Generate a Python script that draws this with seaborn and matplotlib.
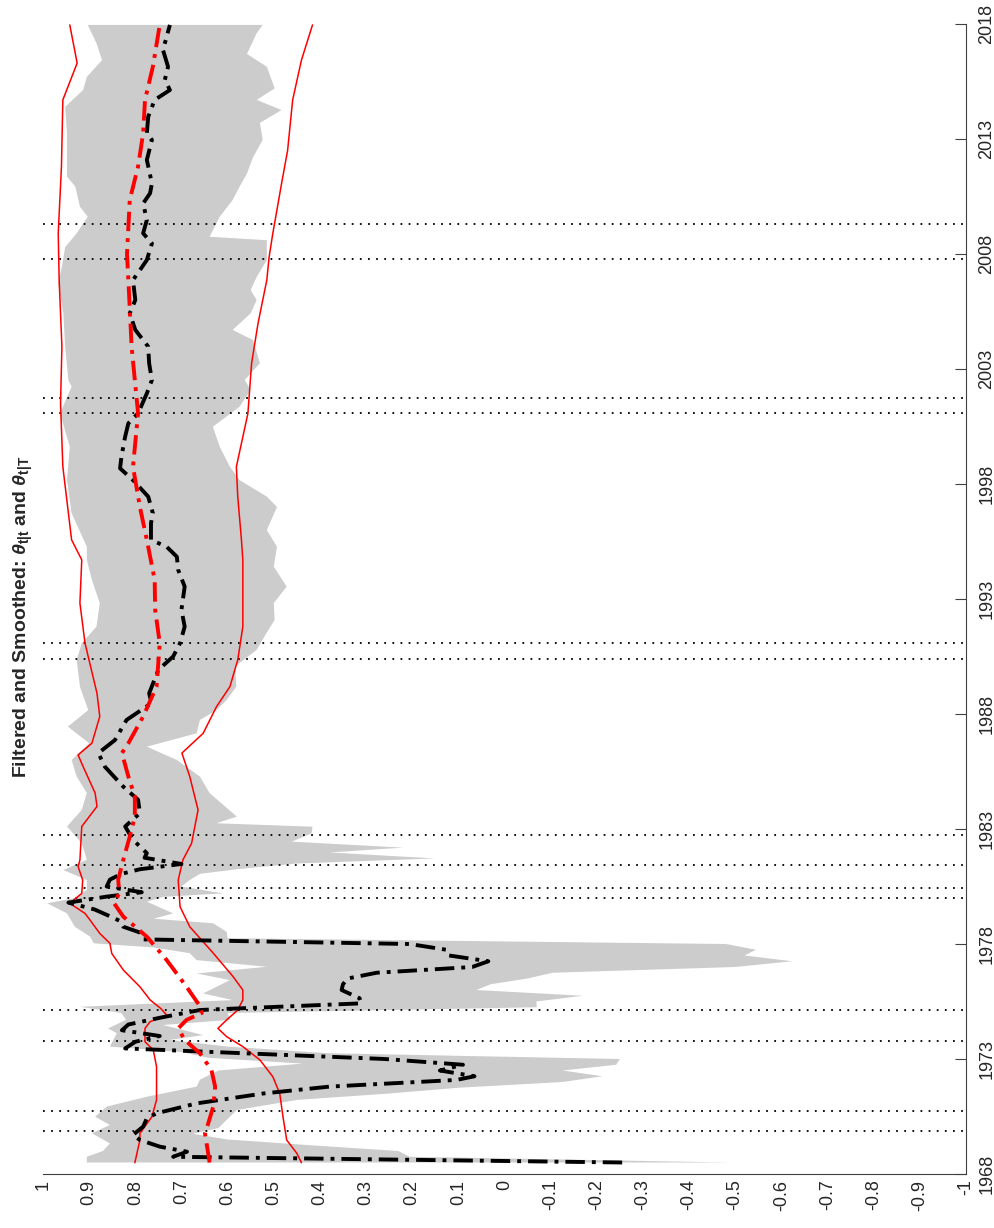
import numpy as np
import pandas as pd
import seaborn as sns
import matplotlib
matplotlib.use("Agg")
import matplotlib.pyplot as plt

# filtered estimate theta_{t|t}
filt_years = [1968.50, 1968.75, 1968.97, 1969.19, 1969.48, 1969.70, 1970.06, 1970.42, 1970.64, 1971.07,
              1971.50, 1971.80, 1972.09, 1972.25, 1972.50, 1972.75, 1973.00, 1973.46, 1973.75, 1974.00,
              1974.25, 1974.50, 1974.80, 1975.13, 1975.42, 1975.64, 1976.00, 1976.25, 1976.50, 1976.75,
              1977.00, 1977.25, 1977.50, 1977.75, 1978.00, 1978.20, 1978.50, 1978.75, 1979.00, 1979.25,
              1979.50, 1979.80, 1980.06, 1980.25, 1980.50, 1980.80, 1981.05, 1981.25, 1981.48, 1981.75,
              1981.95, 1982.53, 1983.11, 1983.69, 1984.27, 1984.84, 1985.71, 1986.30, 1986.87, 1987.74,
              1988.47, 1988.90, 1989.92, 1990.50, 1991.08, 1991.80, 1992.53, 1993.54, 1994.26, 1994.84,
              1995.27, 1995.57, 1996.29, 1996.73, 1997.45, 1998.17, 1998.68, 1999.19, 2000.06, 2000.64,
              2001.07, 2001.94, 2002.52, 2003.25, 2003.97, 2004.70, 2005.42, 2006.00, 2006.87, 2007.30,
              2007.74, 2008.46, 2008.90, 2009.48, 2010.20, 2010.64, 2011.07, 2012.09, 2012.96, 2013.25,
              2013.97, 2014.70, 2015.13, 2015.57, 2016.14, 2016.87, 2017.96]
filt_values = [-0.255, 0.718, 0.688, 0.747, 0.790, 0.805, 0.783, 0.775, 0.754, 0.667,
               0.523, 0.379, 0.104, 0.065, 0.140, 0.090, 0.260, 0.822, 0.800, 0.747,
               0.829, 0.815, 0.745, 0.660, 0.310, 0.314, 0.353, 0.350, 0.340, 0.277,
               0.070, 0.035, 0.120, 0.126, 0.206, 0.783, 0.790, 0.826, 0.833, 0.860,
               0.888, 0.945, 0.862, 0.786, 0.862, 0.855, 0.830, 0.790, 0.700, 0.780,
               0.775, 0.805, 0.822, 0.790, 0.794, 0.826, 0.866, 0.880, 0.844, 0.819,
               0.765, 0.770, 0.750, 0.718, 0.703, 0.693, 0.700, 0.693, 0.707, 0.710,
               0.732, 0.766, 0.766, 0.762, 0.772, 0.805, 0.833, 0.830, 0.822, 0.815,
               0.794, 0.775, 0.764, 0.770, 0.772, 0.800, 0.812, 0.800, 0.805, 0.790,
               0.775, 0.764, 0.783, 0.775, 0.783, 0.768, 0.764, 0.775, 0.764, 0.775,
               0.772, 0.758, 0.725, 0.736, 0.729, 0.740, 0.725]

# band around the filtered estimate
band_hi_years = [1968.50, 1968.75, 1969.00, 1969.33, 1969.77, 1970.13, 1970.49, 1970.93, 1971.36, 1971.80,
                 1972.10, 1972.50, 1972.80, 1973.05, 1973.30, 1973.54, 1974.12, 1974.33, 1974.70, 1975.00,
                 1975.27, 1975.56, 1975.85, 1976.43, 1976.72, 1977.01, 1977.30, 1977.60, 1977.85, 1978.03,
                 1978.32, 1978.75, 1979.33, 1979.77, 1980.00, 1980.35, 1980.78, 1981.22, 1981.66, 1982.38,
                 1983.11, 1983.83, 1984.56, 1985.28, 1986.00, 1986.73, 1987.45, 1988.17, 1989.19, 1990.35,
                 1991.08, 1991.80, 1992.82, 1993.83, 1994.70, 1995.27, 1996.73, 1998.17, 1999.62, 2001.07,
                 2002.23, 2002.52, 2003.97, 2005.42, 2006.73, 2007.45, 2008.30, 2008.90, 2009.62, 2010.06,
                 2010.93, 2011.37, 2013.25, 2014.40, 2015.13, 2015.70, 2016.43, 2017.16, 2017.96]
band_hi_values = [0.905, 0.905, 0.870, 0.855, 0.894, 0.855, 0.887, 0.862, 0.775, 0.667,
                  0.660, 0.620, 0.437, 0.640, 0.700, 0.855, 0.840, 0.859, 0.820, 0.830,
                  0.920, 0.589, 0.653, 0.595, 0.667, 0.515, 0.667, 0.682, 0.760, 0.890,
                  0.898, 0.931, 0.948, 0.991, 0.930, 0.905, 0.905, 0.956, 0.905, 0.916,
                  0.948, 0.916, 0.905, 0.927, 0.938, 0.900, 0.946, 0.902, 0.920, 0.927,
                  0.916, 0.884, 0.877, 0.894, 0.905, 0.905, 0.938, 0.948, 0.942, 0.963,
                  0.938, 0.945, 0.952, 0.956, 0.967, 0.959, 0.952, 0.927, 0.903, 0.920,
                  0.930, 0.948, 0.948, 0.952, 0.913, 0.905, 0.872, 0.884, 0.903]
band_lo_years = [1968.50, 1968.75, 1969.00, 1969.25, 1969.50, 1969.75, 1970.00, 1970.49, 1970.78, 1971.22,
                 1971.50, 1971.75, 1972.00, 1972.25, 1972.50, 1972.75, 1973.00, 1973.25, 1973.54, 1973.83,
                 1974.04, 1974.48, 1974.70, 1975.00, 1975.25, 1975.50, 1975.75, 1976.00, 1976.25, 1976.50,
                 1976.75, 1977.00, 1977.25, 1977.50, 1977.75, 1978.00, 1978.25, 1978.53, 1978.90, 1979.10,
                 1979.33, 1979.84, 1980.05, 1980.20, 1980.50, 1980.78, 1981.05, 1981.25, 1981.50, 1981.72,
                 1981.98, 1982.19, 1982.45, 1982.81, 1983.10, 1983.25, 1983.54, 1984.56, 1985.28, 1986.00,
                 1986.58, 1987.16, 1987.74, 1988.17, 1988.61, 1989.19, 1990.06, 1990.79, 1991.51, 1992.09,
                 1992.82, 1993.54, 1994.41, 1995.27, 1996.00, 1997.00, 1997.45, 1998.17, 1998.75, 1999.62,
                 2000.49, 2001.36, 2002.09, 2002.52, 2003.25, 2004.26, 2004.70, 2005.42, 2006.00, 2006.43,
                 2007.00, 2007.74, 2008.60, 2008.75, 2009.62, 2010.35, 2010.93, 2011.50, 2012.20, 2012.96,
                 2013.70, 2014.26, 2014.70, 2015.20, 2016.14, 2016.70, 2017.60, 2017.96]
band_lo_values = [-0.490, 0.206, 0.230, 0.420, 0.600, 0.675, 0.620, 0.595, 0.580, 0.450,
                  0.249, 0.100, -0.126, -0.212, -0.126, -0.242, -0.250, 0.380, 0.600, 0.725,
                  0.653, 0.740, 0.595, 0.600, -0.070, -0.069, -0.169, 0.061, 0.030, -0.050,
                  -0.104, -0.500, -0.623, -0.520, -0.545, -0.480, 0.600, 0.602, 0.631, 0.760,
                  0.718, 0.775, 0.740, 0.610, 0.700, 0.682, 0.660, 0.580, 0.450, 0.151,
                  0.379, 0.220, 0.461, 0.418, 0.416, 0.624, 0.580, 0.639, 0.660, 0.710,
                  0.775, 0.667, 0.660, 0.624, 0.602, 0.581, 0.584, 0.537, 0.516, 0.498,
                  0.500, 0.472, 0.500, 0.493, 0.515, 0.493, 0.515, 0.574, 0.595, 0.617,
                  0.632, 0.574, 0.550, 0.563, 0.530, 0.545, 0.589, 0.550, 0.537, 0.550,
                  0.537, 0.515, 0.515, 0.639, 0.617, 0.589, 0.574, 0.558, 0.545, 0.524,
                  0.530, 0.483, 0.537, 0.498, 0.515, 0.558, 0.537, 0.524]

# smoothed estimate theta_{t|T} and its bands
smooth_years = [1968.50, 1969.77, 1970.20, 1970.93, 1971.80, 1972.52, 1973.25, 1973.83, 1974.33, 1974.70,
                1975.00, 1975.30, 1976.14, 1977.30, 1978.32, 1979.19, 1979.77, 1980.20, 1980.80, 1981.66,
                1982.67, 1983.54, 1984.41, 1985.28, 1986.30, 1986.73, 1987.89, 1989.19, 1991.08, 1992.53,
                1993.83, 1995.57, 1997.00, 1998.75, 2001.07, 2003.97, 2006.87, 2008.00, 2010.35, 2011.80,
                2013.25, 2014.70, 2016.14, 2017.96]
smooth_values = [0.639, 0.649, 0.642, 0.631, 0.627, 0.635, 0.660, 0.693, 0.707, 0.689,
                 0.656, 0.660, 0.689, 0.732, 0.775, 0.826, 0.846, 0.835, 0.837, 0.826,
                 0.812, 0.801, 0.801, 0.815, 0.829, 0.815, 0.783, 0.754, 0.747, 0.757,
                 0.758, 0.775, 0.790, 0.805, 0.794, 0.808, 0.815, 0.818, 0.812, 0.794,
                 0.783, 0.779, 0.762, 0.747]
s_hi_years = [1968.49, 1969.48, 1969.77, 1970.49, 1971.22, 1972.67, 1973.39, 1973.75, 1974.33, 1974.62,
              1974.91, 1975.20, 1975.57, 1976.14, 1976.87, 1977.59, 1978.03, 1978.46, 1979.04, 1979.33,
              1979.77, 1980.20, 1980.78, 1981.37, 1981.65, 1983.11, 1983.98, 1984.56, 1985.71, 1986.22,
              1986.73, 1987.89, 1988.90, 1991.08, 1992.82, 1994.70, 1995.57, 1998.75, 2001.50, 2003.97,
              2006.87, 2008.90, 2011.80, 2014.70, 2016.30, 2017.96]
s_hi_values = [0.801, 0.790, 0.790, 0.764, 0.754, 0.754, 0.761, 0.779, 0.779, 0.768,
               0.732, 0.745, 0.768, 0.790, 0.826, 0.851, 0.855, 0.877, 0.898, 0.909,
               0.942, 0.916, 0.914, 0.924, 0.920, 0.916, 0.883, 0.887, 0.913, 0.924,
               0.894, 0.877, 0.883, 0.909, 0.920, 0.916, 0.938, 0.957, 0.962, 0.959,
               0.965, 0.967, 0.960, 0.957, 0.926, 0.942]
s_lo_years = [1968.49, 1968.90, 1969.48, 1970.49, 1971.50, 1972.23, 1972.96, 1973.54, 1973.97, 1974.33,
              1974.70, 1975.13, 1975.57, 1976.00, 1976.58, 1977.60, 1978.75, 1979.62, 1980.78, 1981.65,
              1982.38, 1983.83, 1985.28, 1986.30, 1987.16, 1988.32, 1989.19, 1990.35, 1991.80, 1994.70,
              1995.57, 1997.45, 1998.75, 2001.07, 2003.25, 2004.99, 2006.87, 2007.88, 2008.90, 2011.07,
              2012.50, 2014.70, 2016.43, 2017.96]
s_lo_values = [0.440, 0.450, 0.472, 0.480, 0.487, 0.502, 0.530, 0.567, 0.602, 0.621,
               0.602, 0.578, 0.567, 0.567, 0.588, 0.631, 0.682, 0.703, 0.707, 0.697,
               0.678, 0.664, 0.682, 0.699, 0.653, 0.624, 0.595, 0.578, 0.567, 0.567,
               0.570, 0.578, 0.581, 0.556, 0.548, 0.534, 0.515, 0.510, 0.502, 0.483,
               0.470, 0.459, 0.440, 0.416]

# recession dates (dotted lines)
recessions = [1969.87, 1970.73, 1973.77, 1975.12, 1979.99, 1980.44, 1981.45, 1982.76,
              1990.40, 1991.09, 2001.07, 2001.72, 2007.80, 2009.32]

year_ticks = list(range(1968, 2019, 5))
value_ticks = [1, 0.9, 0.8, 0.7, 0.6, 0.5, 0.4, 0.3, 0.2, 0.1, 0,
               -0.1, -0.2, -0.3, -0.4, -0.5, -0.6, -0.7, -0.8, -0.9, -1]
value_labels = ["1", "0.9", "0.8", "0.7", "0.6", "0.5", "0.4", "0.3", "0.2", "0.1", "0",
                "-0.1", "-0.2", "-0.3", "-0.4", "-0.5", "-0.6", "-0.7", "-0.8", "-0.9", "-1"]

sns.set_theme(style="white")
plt.rcParams["font.family"] = ["Liberation Sans", "DejaVu Sans"]
plt.rcParams["mathtext.fontset"] = "custom"
plt.rcParams["mathtext.it"] = "Liberation Sans:italic:bold"
plt.rcParams["mathtext.rm"] = "Liberation Sans:bold"
plt.rcParams["mathtext.bf"] = "Liberation Sans:bold"

fig = plt.figure(figsize=(9.95, 12.28), dpi=100)
ax = fig.add_axes([43 / 995, 54 / 1228, 923 / 995, 1150 / 1228])

# gray band as one polygon: upper edge then lower edge back
ax.fill(np.r_[band_hi_values, band_lo_values[::-1]],
        np.r_[band_hi_years, band_lo_years[::-1]],
        color="#cccccc", lw=0, zorder=1)

for yr in recessions:
    ax.axhline(yr, color="black", lw=1.3, linestyle=(0, (1, 3.5)), zorder=2)

dashdot = (0, (5, 1.8, 1, 1.8))
filt = pd.DataFrame({"year": filt_years, "val": filt_values})
smooth = pd.DataFrame({"year": smooth_years, "val": smooth_values})
s_hi = pd.DataFrame({"year": s_hi_years, "val": s_hi_values})
s_lo = pd.DataFrame({"year": s_lo_years, "val": s_lo_values})

sns.lineplot(data=s_hi, x="val", y="year", orient="y", estimator=None, color="red", lw=1.1, ax=ax, zorder=3)
sns.lineplot(data=s_lo, x="val", y="year", orient="y", estimator=None, color="red", lw=1.1, ax=ax, zorder=3)
sns.lineplot(data=filt, x="val", y="year", orient="y", estimator=None, color="black", lw=2.8,
             linestyle=dashdot, ax=ax, zorder=4)
sns.lineplot(data=smooth, x="val", y="year", orient="y", estimator=None, color="red", lw=2.8,
             linestyle=dashdot, ax=ax, zorder=5)

ax.set_xlim(1, -1)
ax.set_ylim(1968, 2018)
ax.set_xlabel("")
ax.set_ylabel("")
ax.yaxis.tick_right()
ax.set_yticks(year_ticks)
ax.set_yticklabels([str(y) for y in year_ticks], rotation=90, va="center")
ax.set_xticks(value_ticks)
ax.set_xticklabels(value_labels, rotation=90)
ax.tick_params(axis="both", direction="in", length=8, width=0.8, color="#404040",
               labelsize=13, labelcolor="#262626", pad=4)
ax.tick_params(axis="y", pad=9)

for side in ["top", "left"]:
    ax.spines[side].set_visible(False)
for side in ["right", "bottom"]:
    ax.spines[side].set_color("#404040")
    ax.spines[side].set_linewidth(0.8)

fig.text(0.024, 0.498, r"Filtered and Smoothed: $\theta_{\mathrm{t|t}}$ and $\theta_{\mathrm{t|T}}$",
         rotation=90, ha="center", va="center", fontsize=14, fontweight="bold")

fig.savefig("out.png", dpi=100)
